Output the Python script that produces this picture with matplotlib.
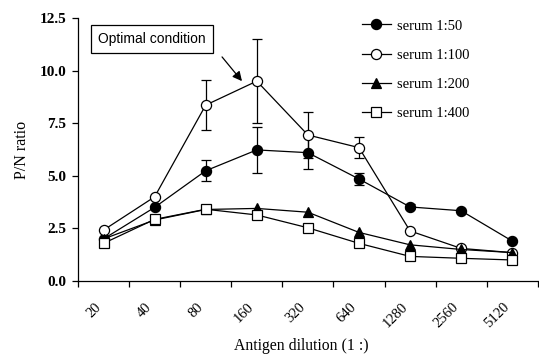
import matplotlib
matplotlib.use("Agg")
import matplotlib.pyplot as plt
import matplotlib.transforms as mtransforms
import numpy as np

# dilution categories on the x axis
dilutions = ["20", "40", "80", "160", "320", "640", "1280", "2560", "5120"]

# P/N ratio for each serum dilution
serum_50 = [2.0, 3.5, 5.24, 6.23, 6.1, 4.85, 3.52, 3.34, 1.9]
serum_100 = [2.42, 4.0, 8.36, 9.5, 6.94, 6.34, 2.38, 1.55, 1.35]
serum_200 = [2.0, 2.9, 3.4, 3.45, 3.27, 2.31, 1.72, 1.5, 1.35]
serum_400 = [1.79, 2.93, 3.41, 3.14, 2.53, 1.79, 1.17, 1.08, 1.0]

# error bars (0 = no bar drawn)
err_50 = [0, 0, 0.5, 1.1, 0.8, 0.3, 0.12, 0, 0]
err_100 = [0, 0, 1.2, 2.0, 1.1, 0.5, 0, 0, 0]

labels = ["serum 1:50", "serum 1:100", "serum 1:200", "serum 1:400"]

plt.rcParams['font.family'] = ['Liberation Serif', 'DejaVu Serif']

fig = plt.figure(figsize=(5.39, 3.6), dpi=100)
ax = fig.add_axes([0.1447, 0.2194, 0.853, 0.7306])

x = np.arange(len(dilutions)) + 0.5

series = [
    (serum_50, err_50, dict(marker='o', mfc='black')),
    (serum_100, err_100, dict(marker='o', mfc='white')),
    (serum_200, None, dict(marker='^', mfc='black')),
    (serum_400, None, dict(marker='s', mfc='white')),
]

for i, (vals, err, style) in enumerate(series):
    vals = np.array(vals)
    if err is not None:
        err = np.array(err)
        m = err > 0
        ax.errorbar(x[m], vals[m], yerr=err[m], fmt='none', ecolor='black',
                    elinewidth=0.9, capsize=3.5, capthick=0.9, zorder=2 + i)
    ax.plot(x, vals, color='black', lw=0.9, mec='black', mew=0.9,
            ms=7.3 if style['marker'] != 's' else 7.0, label=labels[i],
            zorder=2 + i, **style)

ax.set_xlim(0, 9)
ax.set_ylim(0, 12.5)

# boundaries get tick marks, labels sit at the category centres
ax.set_xticks(np.arange(0, 10))
ax.set_xticklabels([])
ax.set_xticks(x, minor=True)
ax.set_xticklabels(dilutions, minor=True, rotation=45, ha='right', va='top',
                   fontsize=10.5)
offset = mtransforms.ScaledTranslation(-5 / 100, 0, fig.dpi_scale_trans)
for lab in ax.xaxis.get_minorticklabels():
    lab.set_transform(lab.get_transform() + offset)
ax.tick_params(axis='x', which='major', direction='out', length=4.5, width=0.9)
ax.tick_params(axis='x', which='minor', length=0, pad=14)

yt = np.arange(0, 12.6, 2.5)
ax.set_yticks(yt)
ax.set_yticklabels(["%.1f" % v for v in yt], fontweight='bold', fontsize=11)
ax.tick_params(axis='y', direction='out', length=4.5, width=0.9, pad=4)

for s in ['top', 'right']:
    ax.spines[s].set_visible(False)
for s in ['left', 'bottom']:
    ax.spines[s].set_linewidth(0.9)

ax.set_ylabel("P/N ratio", fontsize=11.5, labelpad=7)
ax.set_xlabel("Antigen dilution (1 :)", fontsize=11.3)
ax.xaxis.set_label_coords(0.485, -0.215)

ax.legend(loc='upper left', bbox_to_anchor=(0.617, 0.995), frameon=False,
          fontsize=10.5, handlelength=2.0, handletextpad=0.4, labelspacing=1.1,
          borderpad=0, borderaxespad=0)

ax.text(1.45, 11.52, "Optimal condition", ha='center', va='center',
        fontsize=10, family='Liberation Sans',
        bbox=dict(boxstyle='square,pad=0.5', fc='white', ec='black', lw=0.9))
ax.annotate("", xy=(3.21, 9.5), xytext=(2.82, 10.65),
            arrowprops=dict(arrowstyle='-|>', color='black', lw=0.9,
                            shrinkA=0, shrinkB=0, mutation_scale=14))

fig.savefig("out.png", dpi=100)
